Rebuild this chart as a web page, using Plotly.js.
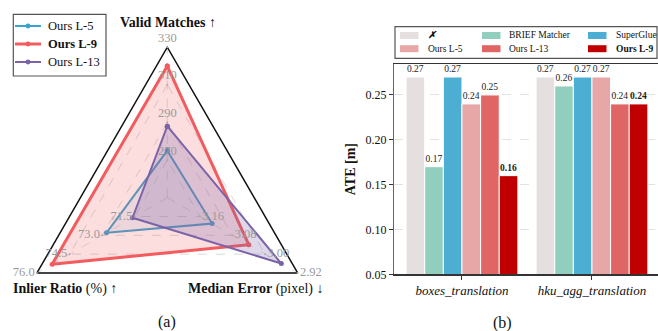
<!DOCTYPE html>
<html>
<head>
<meta charset="utf-8">
<script src="https://cdn.plot.ly/plotly-3.0.1.min.js"></script>
<style>html,body{margin:0;padding:0;background:#fff;}#chart{width:658px;height:331px;}</style>
</head>
<body>
<div id="chart"></div>
<script>
// ---------- Panel (a): radar data ----------
const radarAxes = ['Valid Matches', 'Inlier Ratio', 'Median Error'];
const radarMin = [250, 70.0, 3.24];   // value at centre
const radarMax = [330, 76.0, 2.92];   // value at outer vertex
const radarTicks0 = [270, 290, 310, 330];
const radarTicks1 = [71.5, 73.0, 74.5, 76.0];
const radarTicks2 = [3.16, 3.08, 3.00, 2.92];
const radarTickText0 = ['270', '290', '310', '330'];
const radarTickText1 = ['71.5', '73.0', '74.5', '76.0'];
const radarTickText2 = ['3.16', '3.08', '3.00', '2.92'];
const radarSeries = ['Ours L-5', 'Ours L-9', 'Ours L-13'];
const oursL5 = [275, 72.8, 3.13];
const oursL9 = [320, 75.3, 3.04];
const oursL13 = [288, 71.6, 2.96];

// ---------- Panel (b): bar data ----------
const sequences = ['boxes_translation', 'hku_agg_translation'];
const barMethods = ['✗', 'BRIEF Matcher', 'SuperGlue', 'Ours L-5', 'Ours L-13', 'Ours L-9'];
const ateNone = [0.27, 0.27];
const ateBrief = [0.17, 0.26];
const ateSuperGlue = [0.27, 0.27];
const ateL5 = [0.24, 0.27];
const ateL13 = [0.25, 0.24];
const ateL9 = [0.16, 0.24];

// ---------- styling / geometry ----------
const W = 658, H = 331;
const FONT = '"Liberation Serif", "Times New Roman", serif';
const angles = [90, 210, 330].map(a => a * Math.PI / 180);
const cx = 167.3, cy = 197.7, R = 150.5, radarRight = 329;
const X = v => v / W, Y = v => 1 - v / H;   // pixel -> paper

function norm(v, i) { return (v - radarMin[i]) / (radarMax[i] - radarMin[i]); }
function px(r, i) { return r * Math.cos(angles[i]); }
function py(r, i) { return r * Math.sin(angles[i]); }

const traces = [];
const shapes = [];
const annotations = [];
function note(text, x, y, size, extra) {
  annotations.push(Object.assign({text: text, x: X(x), y: Y(y), xref: 'paper', yref: 'paper',
    xanchor: 'center', yanchor: 'middle', showarrow: false,
    font: {family: FONT, size: size, color: '#111'}}, extra || {}));
}

// grid rings
[0.25, 0.5, 0.75].forEach(k => {
  const idx = [0, 1, 2, 0];
  traces.push({type: 'scatter', mode: 'lines', xaxis: 'x2', yaxis: 'y2',
    x: idx.map(i => px(k, i)), y: idx.map(i => py(k, i)),
    line: {color: '#d0d0d0', width: 0.8, dash: 'dash'}, hoverinfo: 'skip', showlegend: false});
});
// spokes
[0, 1, 2].forEach(i => {
  traces.push({type: 'scatter', mode: 'lines', xaxis: 'x2', yaxis: 'y2',
    x: [0, px(1, i)], y: [0, py(1, i)],
    line: {color: '#d5d5d5', width: 0.8, dash: 'dash'}, hoverinfo: 'skip', showlegend: false});
});
// outer frame (two slanted edges black, bottom edge dark grey and thicker)
traces.push({type: 'scatter', mode: 'lines', xaxis: 'x2', yaxis: 'y2',
  x: [1, 0, 2].map(i => px(1, i)), y: [1, 0, 2].map(i => py(1, i)),
  line: {color: '#111', width: 1.5}, hoverinfo: 'skip', showlegend: false});
traces.push({type: 'scatter', mode: 'lines', xaxis: 'x2', yaxis: 'y2',
  x: [1, 2].map(i => px(1, i)), y: [1, 2].map(i => py(1, i)),
  line: {color: '#444', width: 2}, hoverinfo: 'skip', showlegend: false});

// series
const seriesData = [oursL5, oursL9, oursL13];
const seriesColor = ['#3aa2cf', '#f25c5e', '#7a63a7'];
const seriesFill = ['rgba(58,162,207,0.10)', 'rgba(242,92,94,0.20)', 'rgba(122,99,167,0.25)'];
const seriesWidth = [2, 3, 2];
seriesData.forEach((d, s) => {
  const idx = [0, 1, 2, 0];
  traces.push({type: 'scatter', mode: 'lines+markers', xaxis: 'x2', yaxis: 'y2',
    name: radarSeries[s],
    x: idx.map(i => px(norm(d[i], i), i)), y: idx.map(i => py(norm(d[i], i), i)),
    fill: 'toself', fillcolor: seriesFill[s],
    line: {color: seriesColor[s], width: seriesWidth[s]},
    marker: {color: seriesColor[s], size: 5}, showlegend: false});
});

// tick labels on radar axes
const tickSets = [radarTicks0, radarTicks1, radarTicks2];
const tickTexts = [radarTickText0, radarTickText1, radarTickText2];
const tickPos = ['top center', 'middle left', 'middle right'];
tickSets.forEach((ts, i) => {
  traces.push({type: 'scatter', mode: 'markers+text', xaxis: 'x2', yaxis: 'y2',
    x: ts.map(v => px(norm(v, i), i)), y: ts.map(v => py(norm(v, i), i)),
    text: tickTexts[i], textposition: tickPos[i],
    textfont: {family: FONT, size: 12.5, color: '#9a9a9a'},
    marker: {size: 2, color: '#aaa'}, hoverinfo: 'skip', showlegend: false, cliponaxis: false});
});

// radar legend (drawn box)
shapes.push({type: 'rect', xref: 'paper', yref: 'paper', x0: X(13.3), x1: X(106), y0: Y(14.3), y1: Y(76),
  line: {color: '#555', width: 1.2}, fillcolor: 'rgba(255,255,255,0.9)', layer: 'above'});
const legRows = [26, 44, 62];
const legText = ['Ours L-5', '<b>Ours L-9</b>', 'Ours L-13'];
legRows.forEach((ry, s) => {
  shapes.push({type: 'line', xref: 'paper', yref: 'paper', x0: X(15), x1: X(41), y0: Y(ry), y1: Y(ry),
    line: {color: seriesColor[s], width: seriesWidth[s]}, layer: 'above'});
  shapes.push({type: 'circle', xref: 'paper', yref: 'paper', x0: X(25.6), x1: X(30.4), y0: Y(ry + 2.4), y1: Y(ry - 2.4),
    line: {width: 0}, fillcolor: seriesColor[s], layer: 'above'});
  note(legText[s], 46, ry, 12.5, {xanchor: 'left'});
});

// bars
const barData = [ateNone, ateBrief, ateSuperGlue, ateL5, ateL13, ateL9];
const barColors = ['#e6dfdf', '#91cebd', '#4daed4', '#e8a7a7', '#e06565', '#c00000'];
barData.forEach((d, b) => {
  const bold = b === 5;
  traces.push({type: 'bar', x: sequences, y: d, name: barMethods[b], showlegend: false,
    marker: {color: barColors[b], line: {color: '#ffffff', width: 1}},
    text: d.map(v => v.toFixed(2)),
    texttemplate: bold ? '<b>%{text}</b>' : '%{text}',
    textposition: 'outside', constraintext: 'none', cliponaxis: false,
    textfont: {family: FONT, size: 9.5, color: '#222'}});
});

// bar legend (drawn box, 3 columns x 2 rows, column-major like the source)
shapes.push({type: 'rect', xref: 'paper', yref: 'paper', x0: X(395), x1: X(657), y0: Y(26.7), y1: Y(58.3),
  line: {color: '#555', width: 1.2}, fillcolor: '#fff', layer: 'above'});
const colSw = [400, 482, 588], colTx = [426, 507, 614], rowY = [35.5, 48.7];
const barLegendText = ['<b><i>✗</i></b>', 'BRIEF Matcher', 'SuperGlue', 'Ours L-5', 'Ours L-13', '<b>Ours L-9</b>'];
barMethods.forEach((m, b) => {
  const c = b % 3, r = Math.floor(b / 3);
  shapes.push({type: 'rect', xref: 'paper', yref: 'paper', x0: X(colSw[c]), x1: X(colSw[c] + 18.5),
    y0: Y(rowY[r] + 3.5), y1: Y(rowY[r] - 3.5), line: {width: 0}, fillcolor: barColors[b], layer: 'above'});
  note(barLegendText[b], colTx[c], rowY[r], 9.5, {xanchor: 'left'});
});

// titles / captions
note('<b>Valid Matches</b> ↑', 167.5, 22, 14);
note('<b>Inlier Ratio</b> (%) ↑', 64.5, 289, 14);
note('<b>Median Error</b> (pixel) ↓', 255, 289, 14);
note('(a)', 167, 322, 16);
note('(b)', 503, 323, 16);

const layout = {
  width: W, height: H,
  margin: {l: 0, r: 0, t: 0, b: 0},
  paper_bgcolor: '#fff', plot_bgcolor: 'rgba(0,0,0,0)',
  font: {family: FONT, color: '#111'},
  showlegend: false,
  barmode: 'group', bargap: 0.14, bargroupgap: 0,
  xaxis2: {domain: [0, radarRight / W], anchor: 'y2', visible: false, fixedrange: true,
    range: [-cx / R, (radarRight - cx) / R]},
  yaxis2: {domain: [0, 1], anchor: 'x2', visible: false, fixedrange: true,
    range: [-(H - cy) / R, cy / R]},
  xaxis: {domain: [394 / W, 1], anchor: 'y', range: [-0.523, 1.508],
    tickfont: {family: FONT, size: 13, style: 'italic'},
    showline: true, linecolor: '#333', linewidth: 1.2, mirror: true,
    ticks: 'outside', ticklen: 4, tickcolor: '#333', showgrid: false},
  yaxis: {domain: [(H - 274.3) / H, (H - 64) / H], anchor: 'x', range: [0.05, 0.2845],
    tickvals: [0.05, 0.10, 0.15, 0.20, 0.25], ticktext: ['0.05', '0.10', '0.15', '0.20', '0.25'],
    tickfont: {family: FONT, size: 12},
    ticks: 'outside', ticklen: 4, tickcolor: '#333',
    showline: true, linecolor: '#666', linewidth: 1.2,
    showgrid: true, gridcolor: '#e2e2e2', griddash: 'dash', gridwidth: 1, zeroline: false,
    title: {text: '<b>ATE [m]</b>', font: {family: FONT, size: 14}, standoff: 6}},
  shapes: shapes,
  annotations: annotations
};

Plotly.newPlot('chart', traces, layout, {staticPlot: true, displayModeBar: false});
</script>
</body>
</html>
